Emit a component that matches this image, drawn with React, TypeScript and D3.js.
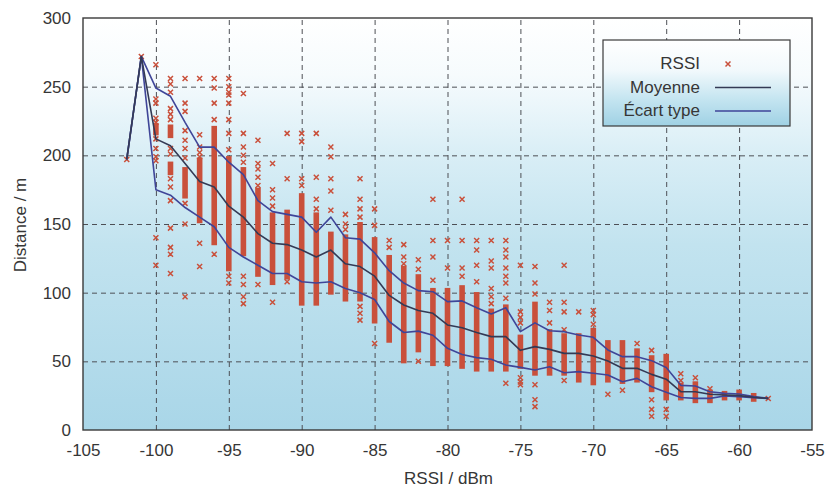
import { useEffect, useRef } from "react";
import * as d3 from "d3";

// RSSI columns (dBm) used by the three curves
const rssi = [-102, -101, -100, -99, -98, -97, -96, -95, -94, -93, -92, -91, -90, -89, -88, -87, -86, -85, -84, -83, -82, -81, -80, -79, -78, -77, -76, -75, -74, -73, -72, -71, -70, -69, -68, -67, -66, -65, -64, -63, -62, -61, -60, -59, -58];
const moyenne = [197, 272, 212, 207, 194, 181, 177, 163, 155, 143, 136, 135, 131, 126, 131, 121, 119, 112, 98, 91, 87, 85, 76.5, 74.5, 71, 68, 68, 58, 60.7, 58.7, 55.8, 55.8, 53.9, 50.2, 44.9, 45, 40.5, 37, 27.9, 27.9, 26, 25.5, 25, 23.8, 23];
const ecartHaut = [197, 272, 249, 243, 224, 206, 206, 195, 186, 167, 159, 157, 155, 144, 155, 140, 139, 129, 116, 107, 101.5, 100.7, 93.5, 94, 89, 84.5, 89, 71.6, 78, 72.3, 71.6, 69.2, 67.5, 58.3, 53.4, 53.4, 50.5, 45.5, 32.5, 32, 27.9, 26.7, 26.2, 24.3, 23];
const ecartBas = [197, 272, 175, 171, 162, 155, 148, 133, 126, 120, 114, 114, 108, 107, 108, 103, 100, 95, 79, 71, 72, 69, 59.5, 55, 52.7, 51.5, 47.3, 45.6, 43.7, 46.1, 41.7, 42.5, 41.3, 40, 35.2, 37.6, 31.5, 27.5, 23.7, 23, 23, 24.8, 24.3, 23.5, 23];

// isolated RSSI samples [dBm, m]
const rssiPoints: [number, number][] = [
  [-102, 197], [-101, 272],
  [-100, 266], [-100, 241], [-100, 238], [-100, 227], [-100, 224], [-100, 212], [-100, 205], [-100, 199], [-100, 196], [-100, 140], [-100, 120],
  [-99, 256], [-99, 252], [-99, 246], [-99, 234], [-99, 230], [-99, 226], [-99, 205], [-99, 201], [-99, 183], [-99, 177], [-99, 167], [-99, 147], [-99, 133], [-99, 128], [-99, 114],
  [-98, 256], [-98, 238], [-98, 232], [-98, 218], [-98, 211], [-98, 205], [-98, 198], [-98, 165], [-98, 150], [-98, 97],
  [-97, 256], [-97, 215], [-97, 206], [-97, 202], [-97, 199], [-97, 136], [-97, 119],
  [-96, 256], [-96, 249], [-96, 238], [-96, 226], [-96, 128],
  [-95, 256], [-95, 250], [-95, 246], [-95, 244], [-95, 238], [-95, 226], [-95, 216], [-95, 204], [-95, 112], [-95, 107],
  [-94, 245], [-94, 216], [-94, 206], [-94, 200], [-94, 195], [-94, 112], [-94, 106], [-94, 97], [-94, 92],
  [-93, 211], [-93, 194], [-93, 190], [-93, 184], [-93, 178], [-93, 106],
  [-92, 194], [-92, 175], [-92, 169], [-92, 163], [-92, 93],
  [-91, 216], [-91, 183], [-91, 108],
  [-90, 216], [-90, 210], [-90, 183], [-90, 178],
  [-89, 216], [-89, 184], [-89, 168], [-89, 161],
  [-88, 206], [-88, 199], [-88, 183], [-88, 174], [-88, 160],
  [-87, 157], [-87, 150], [-87, 146],
  [-86, 183], [-86, 168], [-86, 161], [-86, 155], [-86, 90], [-86, 85], [-86, 80],
  [-85, 161], [-85, 149], [-85, 63],
  [-84, 138], [-84, 133],
  [-83, 135], [-83, 126], [-83, 121],
  [-82, 124], [-82, 117], [-82, 50],
  [-81, 168], [-81, 138], [-81, 126], [-81, 109],
  [-80, 138], [-80, 118],
  [-79, 168], [-79, 138], [-79, 118], [-79, 112],
  [-78, 138], [-78, 131], [-78, 120], [-78, 108],
  [-77, 138], [-77, 123], [-77, 118], [-77, 103], [-77, 97], [-77, 92],
  [-76, 138], [-76, 131], [-76, 126], [-76, 118], [-76, 112], [-76, 107], [-76, 96], [-76, 34],
  [-75, 120], [-75, 86], [-75, 82], [-75, 78], [-75, 38], [-75, 35], [-75, 33],
  [-74, 119], [-74, 107], [-74, 99], [-74, 33], [-74, 22], [-74, 17],
  [-73, 93], [-73, 87], [-73, 78],
  [-72, 120], [-72, 93], [-72, 86], [-72, 73], [-72, 36],
  [-71, 86],
  [-70, 87], [-70, 84], [-70, 77],
  [-69, 26], [-68, 29], [-67, 63],
  [-66, 58], [-66, 22], [-66, 15], [-66, 10],
  [-65, 15], [-65, 10],
  [-64, 41], [-64, 36], [-63, 38], [-62, 30],
  [-58, 23],
];

// dense stacks of samples that print as a solid bar [dBm, from m, to m]
const rssiRuns: [number, number, number][] = [
  [-100, 216, 222], [-99, 214, 221], [-99, 187, 194], [-98, 170, 190], [-97, 152, 197],
  [-96, 136, 220], [-95, 117, 198], [-94, 128, 190], [-93, 113, 175], [-92, 107, 157],
  [-91, 111, 159], [-90, 92, 171], [-89, 92, 157], [-88, 100, 143], [-87, 95, 141],
  [-86, 95, 150], [-85, 79, 139], [-84, 65, 126], [-83, 50, 118], [-82, 58, 112],
  [-81, 48, 102], [-80, 48, 102], [-79, 46, 104], [-78, 44, 99], [-77, 44, 87],
  [-76, 44, 90], [-75, 46, 68], [-74, 41, 92], [-73, 41, 72], [-72, 41, 69],
  [-71, 36, 69], [-70, 34, 73], [-69, 36, 64], [-68, 35, 64], [-67, 36, 58],
  [-66, 29, 53], [-65, 23, 54], [-64, 23, 33], [-63, 21, 34], [-62, 21, 28],
  [-61, 23, 27], [-60, 23, 28], [-59, 22, 25.5],
];

const xTicks = [-105, -100, -95, -90, -85, -80, -75, -70, -65, -60, -55];
const yTicks = [0, 50, 100, 150, 200, 250, 300];

const RED = "#c9503b";
const MEAN = "#343a55";
const STD = "#3f4598";
const FONT = "'Liberation Sans', Arial, Helvetica, sans-serif";

export default function App() {
  const svgRef = useRef<SVGSVGElement>(null);

  useEffect(() => {
    document.body.style.margin = "0";
    const el = svgRef.current;
    if (!el) return;
    const W = 830, H = 491;
    const m = { top: 18, right: 18, bottom: 61, left: 83 };
    const iW = W - m.left - m.right;
    const iH = H - m.top - m.bottom;

    d3.select(el).selectAll("*").remove();
    const svg = d3.select(el).attr("viewBox", `0 0 ${W} ${H}`);

    const x = d3.scaleLinear().domain([-105, -55]).range([0, iW]);
    const y = d3.scaleLinear().domain([0, 300]).range([iH, 0]);

    const defs = svg.append("defs");
    const bg = defs.append("linearGradient").attr("id", "bgGrad").attr("x1", "0").attr("x2", "0").attr("y1", "0").attr("y2", "1");
    [["0%", "#ffffff"], ["14%", "#f6fbfd"], ["33%", "#d9eef6"], ["55%", "#c2e3ef"], ["100%", "#a9d6e8"]]
      .forEach(([o, c]) => bg.append("stop").attr("offset", o).attr("stop-color", c));
    const lg = defs.append("linearGradient").attr("id", "legGrad").attr("x1", "0").attr("x2", "0").attr("y1", "0").attr("y2", "1");
    [["0%", "#ffffff"], ["35%", "#f2f9fc"], ["70%", "#c3e4f0"], ["100%", "#9fd1e4"]]
      .forEach(([o, c]) => lg.append("stop").attr("offset", o).attr("stop-color", c));

    const g = svg.append("g").attr("transform", `translate(${m.left},${m.top})`);

    g.append("rect").attr("width", iW).attr("height", iH).attr("fill", "url(#bgGrad)");

    // Grid
    g.append("g").attr("transform", `translate(0,${iH})`)
      .call(d3.axisBottom(x).tickValues(xTicks.slice(1, -1)).tickSize(-iH).tickFormat(() => ""))
      .call(ax => ax.select(".domain").remove())
      .call(ax => ax.selectAll("line").attr("stroke", "#4d4f55").attr("stroke-dasharray", "5,4"));
    g.append("g")
      .call(d3.axisLeft(y).tickValues(yTicks.slice(1, -1)).tickSize(-iW).tickFormat(() => ""))
      .call(ax => ax.select(".domain").remove())
      .call(ax => ax.selectAll("line").attr("stroke", "#4d4f55").attr("stroke-dasharray", "5,4"));

    // Scatter
    g.append("g").selectAll("rect").data(rssiRuns).join("rect")
      .attr("x", d => x(d[0]) - 2.8)
      .attr("width", 5.6)
      .attr("y", d => y(d[2]) - 2)
      .attr("height", d => y(d[1]) - y(d[2]) + 4)
      .attr("fill", RED);

    const cross = "M-2.5,-2.5L2.5,2.5M-2.5,2.5L2.5,-2.5";
    g.append("g").selectAll("path").data(rssiPoints).join("path")
      .attr("transform", d => `translate(${x(d[0])},${y(d[1])})`)
      .attr("d", cross)
      .attr("stroke", RED)
      .attr("stroke-width", 1.5)
      .attr("fill", "none");

    // Curves
    const line = d3.line<number>().x((d, i) => x(rssi[i])).y(d => y(d));
    [[ecartHaut, STD], [ecartBas, STD], [moyenne, MEAN]].forEach(([s, c]) => {
      g.append("path")
        .datum(s as number[])
        .attr("fill", "none")
        .attr("stroke", c as string)
        .attr("stroke-width", 1.6)
        .attr("stroke-linejoin", "round")
        .attr("d", line);
    });

    // Frame
    g.append("rect").attr("width", iW).attr("height", iH)
      .attr("fill", "none").attr("stroke", "#3a3a3a").attr("stroke-width", 1.4);

    // Axes labels
    const xAx = g.append("g").attr("transform", `translate(0,${iH})`)
      .call(d3.axisBottom(x).tickValues(xTicks).tickSize(0).tickPadding(14).tickFormat(d => `${d}`));
    xAx.select(".domain").remove();
    xAx.selectAll("text").attr("fill", "#363636").attr("font-size", "17px").attr("font-family", FONT);

    const yAx = g.append("g")
      .call(d3.axisLeft(y).tickValues(yTicks).tickSize(0).tickPadding(12).tickFormat(d => `${d}`));
    yAx.select(".domain").remove();
    yAx.selectAll("text").attr("fill", "#363636").attr("font-size", "17px").attr("font-family", FONT);

    svg.append("text")
      .attr("x", m.left + iW / 2 + 1).attr("y", 484)
      .attr("text-anchor", "middle")
      .attr("fill", "#363636").attr("font-size", "17px").attr("font-family", FONT)
      .text("RSSI / dBm");
    svg.append("text")
      .attr("transform", `translate(26,${m.top + 207}) rotate(-90)`)
      .attr("text-anchor", "middle")
      .attr("fill", "#363636").attr("font-size", "17px").attr("font-family", FONT)
      .text("Distance / m");

    // Legend
    const leg = svg.append("g").attr("transform", "translate(603,40)");
    leg.append("rect").attr("width", 187).attr("height", 86)
      .attr("fill", "url(#legGrad)").attr("stroke", "#3a3a3a").attr("stroke-width", 1.2);
    const items = [
      { label: "RSSI", kind: "mark", color: RED },
      { label: "Moyenne", kind: "line", color: MEAN },
      { label: "Écart type", kind: "line", color: STD },
    ];
    items.forEach((it, i) => {
      const cy = 23 + i * 23.5;
      leg.append("text")
        .attr("x", 97).attr("y", cy + 6)
        .attr("text-anchor", "end")
        .attr("fill", "#363636").attr("font-size", "17px").attr("font-family", FONT)
        .text(it.label);
      if (it.kind === "mark") {
        leg.append("path").attr("transform", `translate(125,${cy + 1})`).attr("d", cross)
          .attr("stroke", it.color).attr("stroke-width", 1.5).attr("fill", "none");
      } else {
        leg.append("line").attr("x1", 112).attr("x2", 168).attr("y1", cy + 1).attr("y2", cy + 1)
          .attr("stroke", it.color).attr("stroke-width", 1.6);
      }
    });
  }, []);

  return (
    <svg ref={svgRef} width={830} height={491}
      style={{ position: "absolute", left: 0, top: 0, display: "block", background: "#ffffff" }} />
  );
}
